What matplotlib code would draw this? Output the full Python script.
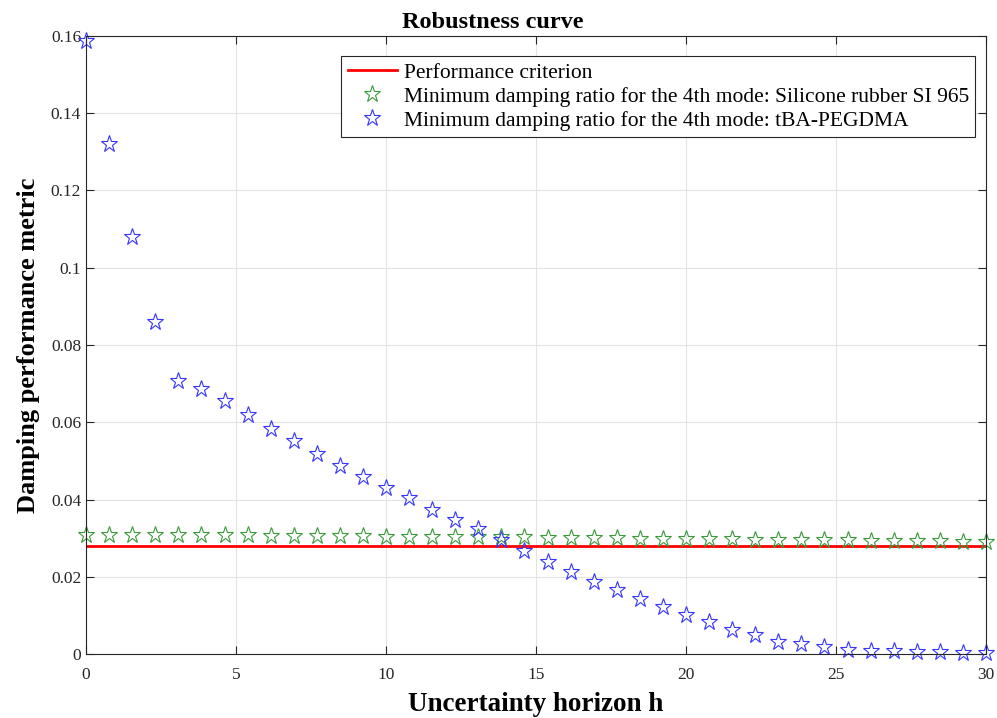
import numpy as np
import matplotlib.pyplot as plt

plt.rcParams['font.family'] = ['Liberation Serif', 'DejaVu Serif']

# uncertainty horizon samples
h = np.linspace(0, 30, 40)

criterion = 0.028

silicone = [0.0309, 0.0309, 0.0309, 0.0308, 0.0308, 0.0308, 0.0308, 0.0307, 0.0306, 0.0306,
            0.0306, 0.0305, 0.0305, 0.0304, 0.0304, 0.0304, 0.0303, 0.0303, 0.0302, 0.0302,
            0.0301, 0.0301, 0.0300, 0.0300, 0.0299, 0.0299, 0.0298, 0.0298, 0.0297, 0.0296,
            0.0296, 0.0295, 0.0295, 0.0294, 0.0293, 0.0293, 0.0292, 0.0292, 0.0291, 0.0290]

tba = [0.1587, 0.1320, 0.1080, 0.0860, 0.0706, 0.0686, 0.0654, 0.0618, 0.0583, 0.0551,
       0.0519, 0.0487, 0.0459, 0.0431, 0.0403, 0.0373, 0.0347, 0.0323, 0.0296, 0.0266,
       0.0238, 0.0212, 0.0187, 0.0165, 0.0142, 0.0121, 0.0100, 0.0084, 0.0062, 0.0050,
       0.0032, 0.0026, 0.0017, 0.0011, 0.0009, 0.0007, 0.0005, 0.0004, 0.0003, 0.0003]

fig = plt.figure(figsize=(9.97, 7.18), dpi=100)
ax = fig.add_axes([0.0863, 0.0891, 0.9027, 0.8608])

ax.plot(h, [criterion] * len(h), color='red', lw=2, label='Performance criterion')
ax.plot(h, silicone, ls='none', marker='*', ms=12.5, mfc='none', mec='#3a9a3a', mew=0.8,
        clip_on=False, label='Minimum damping ratio for the 4th mode: Silicone rubber SI 965')
ax.plot(h, tba, ls='none', marker='*', ms=12.5, mfc='none', mec='#3535ff', mew=0.8,
        clip_on=False, label='Minimum damping ratio for the 4th mode: tBA-PEGDMA')

ax.set_xlim(0, 30)
ax.set_ylim(0, 0.16)
ax.set_xticks([0, 5, 10, 15, 20, 25, 30])
ax.set_yticks([0, 0.02, 0.04, 0.06, 0.08, 0.1, 0.12, 0.14, 0.16])
ax.set_yticklabels(['0', '0.02', '0.04', '0.06', '0.08', '0.1', '0.12', '0.14', '0.16'])
ax.grid(True, color='#e3e3e3', lw=0.8)
ax.set_axisbelow(True)
ax.tick_params(direction='in', top=True, right=True, labelsize=12.5, colors='#262626', length=6)
ax.tick_params(axis='x', pad=9)
for s in ax.spines.values():
    s.set_color('#262626')
    s.set_linewidth(0.8)

ax.set_title('Robustness curve', fontsize=17.5, fontweight='bold', pad=6, x=0.452)
ax.set_xlabel('Uncertainty horizon h', fontsize=19.5, fontweight='bold', labelpad=7)
ax.set_ylabel('Damping performance metric', fontsize=19, fontweight='bold', labelpad=8)

leg = ax.legend(loc='upper right', bbox_to_anchor=(0.988, 0.967), fontsize=15.5, fancybox=False,
                edgecolor='#262626', framealpha=1, handlelength=2.3, borderpad=0.3,
                labelspacing=0.18, handletextpad=0.3, borderaxespad=0)
leg.get_frame().set_linewidth(0.8)

fig.savefig('out.png', dpi=100)
